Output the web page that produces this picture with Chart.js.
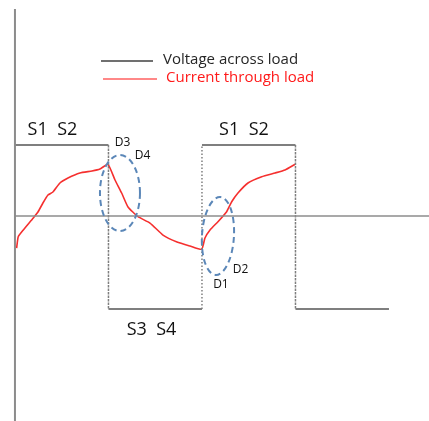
<!DOCTYPE html>
<html>
<head>
<meta charset="utf-8">
<script src="https://cdn.jsdelivr.net/npm/chart.js@4.4.0/dist/chart.umd.min.js"></script>
<style>
  body { margin: 0; background: #fff; }
  #wrap { width: 429px; height: 421px; }
</style>
</head>
<body>
<div id="wrap"><canvas id="chart" width="429" height="421"></canvas></div>
<script>
// time in switching intervals (one half period = 1), amplitudes normalised so V high = 1
const voltageT = [0, 1, 1, 2, 2, 3, 3, 4];
const voltageV = [1, 1, -1.31, -1.31, 1, 1, -1.31, -1.31];

const currentT = [0.018, 0.035, 0.089, 0.196, 0.246, 0.299, 0.353, 0.406, 0.481, 0.567, 0.695, 0.824, 0.909, 0.995,
  1.070, 1.141, 1.209, 1.316, 1.444, 1.583, 1.733, 1.872, 1.997,
  2.032, 2.086, 2.171, 2.264, 2.318, 2.385, 2.492, 2.639, 2.781, 2.888, 2.995];
const currentI = [-0.451, -0.292, -0.197, -0.028, 0.056, 0.183, 0.296, 0.338, 0.465, 0.535, 0.606, 0.634, 0.662, 0.728,
  0.507, 0.324, 0.127, -0.010, -0.099, -0.268, -0.366, -0.423, -0.469,
  -0.310, -0.197, -0.080, 0.061, 0.201, 0.324, 0.465, 0.554, 0.606, 0.648, 0.728];

// switch labels above / below the voltage levels
const switchLabels = ["S1  S2", "S3  S4", "S1  S2"];
const switchT = [0.401, 1.460, 2.449];
const switchY = [1.211, -1.606, 1.211];

// diode labels next to the freewheeling loops
const diodeLabels = ["D3", "D4", "D2", "D1"];
const diodeT = [1.150, 1.364, 2.412, 2.203];
const diodeY = [1.028, 0.845, -0.761, -0.972];

// dashed loops marking the diode conduction intervals
const loopT = [1.123, 2.171];
const loopY = [0.324, -0.282];
const loopRx = [0.214, 0.171];
const loopRy = [0.535, 0.549];

// plot window
const tMin = -0.16, tMax = 4.428;
const yMin = -2.887, yMax = 3.042, yAxisTop = 2.915;

const seriesNames = ["Voltage across load", "Current through load"];

const toPts = (xs, ys) => xs.map((x, i) => ({x: x, y: ys[i]}));

const overlay = {
  id: "overlay",
  afterDatasetsDraw(chart) {
    const {ctx, scales} = chart;
    const sx = scales.x, sy = scales.y;
    ctx.save();

    // dashed loops
    ctx.strokeStyle = "#5b87b8";
    ctx.lineWidth = 2;
    ctx.setLineDash([6, 4]);
    loopT.forEach((t, i) => {
      const cx = sx.getPixelForValue(t), cy = sy.getPixelForValue(loopY[i]);
      const rx = Math.abs(sx.getPixelForValue(t + loopRx[i]) - cx);
      const ry = Math.abs(sy.getPixelForValue(loopY[i] + loopRy[i]) - cy);
      ctx.beginPath();
      ctx.ellipse(cx, cy, rx, ry, i === 1 ? 0.06 : 0, 0, Math.PI * 2);
      ctx.stroke();
    });
    ctx.setLineDash([]);

    ctx.textAlign = "center";
    ctx.textBaseline = "middle";
    ctx.fillStyle = "#111";
    ctx.font = "18px 'Open Sans'";
    switchLabels.forEach((s, i) => {
      ctx.fillText(s, sx.getPixelForValue(switchT[i]), sy.getPixelForValue(switchY[i]));
    });
    ctx.font = "12px 'Open Sans'";
    diodeLabels.forEach((s, i) => {
      ctx.fillText(s, sx.getPixelForValue(diodeT[i]), sy.getPixelForValue(diodeY[i]));
    });

    // legend
    const leg = chart.options.plugins.overlay;
    ctx.textAlign = "left";
    ctx.font = "15px 'Open Sans'";
    leg.items.forEach((it, i) => {
      ctx.strokeStyle = it.line;
      ctx.lineWidth = 1.5;
      ctx.beginPath();
      ctx.moveTo(it.x0, it.y);
      ctx.lineTo(it.x1, it.y);
      ctx.stroke();
      ctx.fillStyle = it.text;
      ctx.fillText(seriesNames[i], it.tx, it.y - 1);
    });
    ctx.restore();
  }
};

new Chart(document.getElementById("chart"), {
  type: "line",
  data: {
    datasets: [
      {
        label: "y axis",
        data: [{x: 0, y: yMin}, {x: 0, y: yAxisTop}],
        borderColor: "#8c8c8c",
        borderWidth: 2,
        pointRadius: 0
      },
      {
        label: "zero line",
        data: [{x: 0, y: 0}, {x: tMax, y: 0}],
        borderColor: "#8c8c8c",
        borderWidth: 1.5,
        pointRadius: 0
      },
      {
        label: seriesNames[0],
        data: toPts(voltageT, voltageV),
        borderColor: "#7f7f7f",
        borderWidth: 2,
        pointRadius: 0,
        segment: {
          borderDash: c => c.p0.parsed.x === c.p1.parsed.x ? [1.5, 2] : undefined,
          borderWidth: c => c.p0.parsed.x === c.p1.parsed.x ? 1.5 : undefined
        }
      },
      {
        label: seriesNames[1],
        data: toPts(currentT, currentI),
        borderColor: "#f5302f",
        borderWidth: 1.6,
        pointRadius: 0,
        tension: 0.15
      }
    ]
  },
  options: {
    responsive: false,
    animation: false,
    layout: {padding: 0},
    scales: {
      x: {type: "linear", min: tMin, max: tMax, display: false},
      y: {type: "linear", min: yMin, max: yMax, display: false}
    },
    plugins: {
      legend: {display: false},
      tooltip: {enabled: false},
      overlay: {
        items: [
          {x0: 101, x1: 153, y: 61, tx: 163, line: "#404040", text: "#262626"},
          {x0: 103, x1: 157, y: 79, tx: 166, line: "#ff6060", text: "#ff1a1a"}
        ]
      }
    }
  },
  plugins: [overlay]
});
</script>
</body>
</html>
